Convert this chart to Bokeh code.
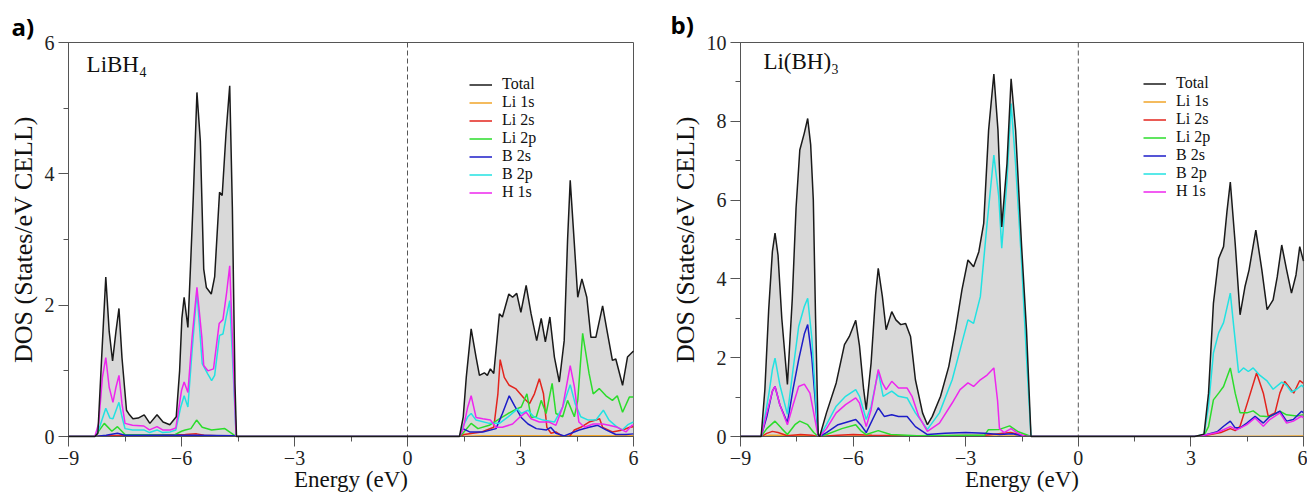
from bokeh.plotting import figure
from bokeh.models import Span, Label, Legend, LegendItem, SingleIntervalTicker, Range1d
from bokeh.layouts import row
from bokeh.embed import file_html
from bokeh.resources import INLINE

SERIES = ["Total", "Li 1s", "Li 2s", "Li 2p", "B 2s", "B 2p", "H 1s"]
COLORS = ["#1a1a1a", "#f0a428", "#e3241d", "#2bdc2b", "#1c1cc8", "#22e2e2", "#ee26ee"]

# ---------------- panel a) LiBH4 : (energy eV, DOS) ----------------
A_TOTAL = [(-9, 0), (-8.3, 0), (-8.22, 0.05), (-8.12, 1.2), (-8.01, 2.43), (-7.92, 1.6), (-7.83, 1.15),
           (-7.74, 1.6), (-7.66, 1.95), (-7.58, 1.2), (-7.46, 0.4), (-7.38, 0.33), (-7.29, 0.27),
           (-7.15, 0.28), (-6.99, 0.33), (-6.84, 0.2), (-6.65, 0.33), (-6.49, 0.22), (-6.31, 0.18),
           (-6.14, 0.3), (-6.05, 1.0), (-5.99, 1.8), (-5.93, 2.12), (-5.83, 1.66), (-5.76, 2.6),
           (-5.69, 3.6), (-5.59, 5.24), (-5.5, 4.5), (-5.41, 2.55), (-5.34, 2.27), (-5.21, 2.17),
           (-5.12, 2.43), (-4.99, 3.72), (-4.92, 3.67), (-4.82, 4.6), (-4.72, 5.34), (-4.65, 3.5),
           (-4.58, 0.8), (-4.54, 0), (1.38, 0), (1.48, 0.3), (1.56, 0.9), (1.69, 1.64), (1.82, 1.21),
           (1.91, 0.93), (2.04, 0.97), (2.12, 0.93), (2.2, 1.03), (2.29, 0.96), (2.38, 1.5), (2.44, 1.87),
           (2.52, 1.82), (2.69, 2.17), (2.79, 2.12), (2.9, 2.18), (3.01, 1.89), (3.15, 2.3), (3.28, 1.87),
           (3.43, 1.46), (3.55, 1.8), (3.66, 1.44), (3.78, 1.82), (3.9, 1.21), (4.03, 0.83), (4.16, 1.46),
           (4.25, 3.0), (4.32, 3.9), (4.43, 2.93), (4.52, 2.12), (4.63, 2.4), (4.76, 2.12), (4.87, 1.51),
           (5.0, 1.51), (5.18, 1.99), (5.31, 1.57), (5.44, 1.16), (5.53, 1.18), (5.71, 0.78), (5.84, 1.21),
           (5.96, 1.28), (6.0, 1.3)]
A_LI1S = [(-9, 0), (-8.3, 0), (-8.0, 0.01), (-4.6, 0.01), (-4.55, 0), (1.38, 0), (2.0, 0.01), (6, 0.01)]
A_LI2S = [(-9, 0), (-8.3, 0), (-8.0, 0.01), (-5.9, 0.03), (-5.6, 0.04), (-5.4, 0.02), (-4.55, 0), (1.38, 0),
          (1.5, 0.03), (1.97, 0.07), (2.29, 0.14), (2.4, 0.65), (2.46, 1.17), (2.57, 0.9), (2.7, 0.78),
          (2.87, 0.73), (3.1, 0.58), (3.24, 0.5), (3.37, 0.65), (3.5, 0.88), (3.61, 0.65), (3.7, 0.14),
          (3.81, 0.05), (3.94, 0.07), (4.12, 0.0), (4.3, 0.0), (4.43, 0.1), (4.6, 0.14), (4.82, 0.22),
          (5.0, 0.25), (5.1, 0.27), (5.18, 0.14), (5.44, 0.07), (5.71, 0.1), (5.9, 0.14), (6, 0.15)]
A_LI2P = [(-9, 0), (-8.3, 0), (-8.15, 0.12), (-8.05, 0.2), (-7.85, 0.08), (-7.7, 0.15), (-7.5, 0.03),
          (-6.2, 0.02), (-6.0, 0.08), (-5.9, 0.1), (-5.75, 0.12), (-5.6, 0.25), (-5.45, 0.14), (-5.2, 0.1),
          (-4.85, 0.12), (-4.65, 0.04), (-4.55, 0), (1.38, 0), (1.47, 0.05), (1.69, 0.2), (1.87, 0.12),
          (2.17, 0.17), (2.44, 0.27), (2.67, 0.35), (2.9, 0.42), (3.02, 0.45), (3.17, 0.65), (3.28, 0.29),
          (3.42, 0.3), (3.55, 0.55), (3.68, 0.35), (3.84, 0.81), (3.94, 0.35), (4.12, 0.3), (4.25, 0.55),
          (4.43, 0.3), (4.52, 0.55), (4.65, 1.57), (4.82, 0.96), (4.93, 0.65), (5.09, 0.73), (5.27, 0.62),
          (5.44, 0.55), (5.57, 0.62), (5.71, 0.37), (5.89, 0.6), (6, 0.6)]
A_B2S = [(-9, 0), (-8.3, 0), (-8.0, 0.02), (-7.7, 0.05), (-7.5, 0.02), (-5.6, 0.02), (-4.6, 0.01), (-4.55, 0),
         (1.38, 0), (1.47, 0.12), (1.65, 0.07), (2.0, 0.07), (2.35, 0.12), (2.52, 0.35), (2.7, 0.62),
         (2.84, 0.47), (3.02, 0.29), (3.2, 0.19), (3.42, 0.12), (3.69, 0.1), (3.8, 0.14), (3.94, 0.05),
         (4.16, 0.01), (4.34, 0.05), (4.56, 0.1), (4.82, 0.14), (5.05, 0.17), (5.27, 0.1), (5.53, 0.03),
         (5.8, 0.03), (6, 0.04)]
A_B2P = [(-9, 0), (-8.3, 0), (-8.2, 0.1), (-8.01, 0.43), (-7.9, 0.28), (-7.82, 0.27), (-7.66, 0.52),
         (-7.58, 0.3), (-7.5, 0.12), (-7.3, 0.1), (-7.0, 0.1), (-6.85, 0.06), (-6.65, 0.1), (-6.5, 0.06),
         (-6.3, 0.07), (-6.15, 0.1), (-6.02, 0.45), (-5.93, 0.62), (-5.83, 0.45), (-5.72, 1.3), (-5.59, 2.2),
         (-5.45, 1.11), (-5.3, 0.95), (-5.2, 0.85), (-5.12, 0.93), (-4.99, 1.54), (-4.9, 1.56), (-4.82, 1.8),
         (-4.72, 2.07), (-4.63, 1.0), (-4.55, 0), (1.38, 0), (1.47, 0.15), (1.6, 0.3), (1.69, 0.35),
         (1.82, 0.25), (2.17, 0.2), (2.44, 0.2), (2.67, 0.3), (2.92, 0.42), (3.02, 0.35), (3.2, 0.4),
         (3.35, 0.3), (3.6, 0.25), (3.9, 0.22), (4.12, 0.45), (4.32, 0.79), (4.45, 0.5), (4.6, 0.3),
         (4.8, 0.25), (5.0, 0.25), (5.2, 0.4), (5.35, 0.25), (5.55, 0.15), (5.7, 0.1), (5.85, 0.18), (6, 0.22)]
A_H1S = [(-9, 0), (-8.3, 0), (-8.2, 0.2), (-8.1, 0.9), (-8.01, 1.2), (-7.92, 0.75), (-7.82, 0.52),
         (-7.74, 0.75), (-7.66, 0.93), (-7.58, 0.5), (-7.5, 0.2), (-7.3, 0.17), (-7.0, 0.16), (-6.85, 0.1),
         (-6.65, 0.15), (-6.5, 0.1), (-6.3, 0.1), (-6.15, 0.13), (-6.0, 0.7), (-5.93, 0.83), (-5.83, 0.67),
         (-5.72, 1.5), (-5.59, 2.27), (-5.46, 1.51), (-5.41, 1.08), (-5.3, 1.0), (-5.15, 1.03), (-5.0, 1.72),
         (-4.9, 1.78), (-4.8, 2.2), (-4.72, 2.6), (-4.63, 1.2), (-4.55, 0), (1.38, 0), (1.47, 0.1), (1.6, 0.45),
         (1.69, 0.62), (1.82, 0.29), (2.0, 0.27), (2.2, 0.25), (2.35, 0.14), (2.52, 0.14), (2.79, 0.19),
         (2.97, 0.29), (3.15, 0.37), (3.28, 0.27), (3.5, 0.22), (3.76, 0.22), (3.94, 0.17), (4.12, 0.45),
         (4.32, 1.08), (4.43, 0.76), (4.55, 0.22), (4.7, 0.14), (4.93, 0.19), (5.18, 0.19), (5.35, 0.17),
         (5.57, 0.14), (5.8, 0.07), (5.96, 0.17), (6, 0.17)]

# ---------------- panel b) Li(BH)3 ----------------
B_TOTAL = [(-9, 0), (-8.45, 0), (-8.35, 1.2), (-8.25, 3.2), (-8.15, 4.7), (-8.08, 5.16), (-8.0, 4.6),
           (-7.9, 3.0), (-7.75, 1.32), (-7.62, 3.5), (-7.52, 5.8), (-7.42, 7.27), (-7.3, 7.7), (-7.21, 8.07),
           (-7.13, 7.4), (-7.06, 6.0), (-7.0, 3.0), (-6.93, 0.05), (-6.89, 0), (-6.71, 0.6), (-6.45, 1.36),
           (-6.23, 2.33), (-6.1, 2.54), (-5.93, 2.95), (-5.83, 2.3), (-5.72, 1.2), (-5.65, 0.68), (-5.52, 1.87),
           (-5.4, 3.6), (-5.33, 4.27), (-5.22, 3.55), (-5.12, 2.71), (-4.97, 3.17), (-4.86, 2.96), (-4.73, 2.84),
           (-4.6, 2.87), (-4.47, 2.54), (-4.34, 1.44), (-4.15, 0.6), (-4.02, 0.3), (-3.89, 0.51), (-3.67, 1.02),
           (-3.45, 1.78), (-3.27, 2.71), (-3.1, 3.72), (-2.94, 4.48), (-2.79, 4.31), (-2.65, 4.69),
           (-2.52, 5.41), (-2.39, 7.77), (-2.25, 9.2), (-2.14, 7.77), (-2.04, 5.32), (-1.9, 6.93),
           (-1.79, 9.08), (-1.67, 7.77), (-1.51, 4.82), (-1.38, 2.7), (-1.26, 0), (3.1, 0), (3.35, 0.06),
           (3.47, 1.1), (3.6, 3.38), (3.74, 4.52), (3.87, 4.82), (3.96, 5.7), (4.05, 6.46), (4.18, 4.9),
           (4.31, 3.09), (4.44, 3.8), (4.55, 4.23), (4.73, 5.24), (4.89, 4.23), (5.03, 3.22), (5.19, 3.47),
           (5.3, 4.05), (5.42, 4.86), (5.55, 4.23), (5.68, 3.64), (5.8, 4.1), (5.9, 4.82), (6.0, 4.45)]
B_LI1S = [(-9, 0), (-8.45, 0), (-8.2, 0.03), (-7.2, 0.02), (-6.93, 0), (-6.89, 0), (-6, 0.01), (-1.3, 0.01),
          (-1.26, 0), (3.1, 0), (6, 0.01)]
B_LI2S = [(-9, 0), (-8.45, 0), (-8.3, 0.08), (-8.15, 0.13), (-8.0, 0.1), (-7.75, 0.02), (-7.4, 0.05),
          (-7.1, 0.03), (-6.93, 0), (-6.89, 0), (-6.4, 0.03), (-6.0, 0.05), (-5.5, 0.03), (-4.0, 0.01),
          (-2.5, 0.03), (-2.0, 0.08), (-1.8, 0.1), (-1.5, 0.03), (-1.26, 0), (3.1, 0), (3.35, 0.02),
          (3.8, 0.1), (4.05, 0.2), (4.18, 0.15), (4.31, 0.26), (4.53, 0.93), (4.75, 1.61), (4.93, 1.1),
          (5.06, 0.51), (5.24, 0.6), (5.37, 1.1), (5.5, 1.4), (5.62, 1.25), (5.74, 1.1), (5.9, 1.42), (6.0, 1.35)]
B_LI2P = [(-9, 0), (-8.45, 0), (-8.3, 0.2), (-8.08, 0.39), (-7.9, 0.2), (-7.75, 0.05), (-7.55, 0.3),
          (-7.42, 0.39), (-7.21, 0.3), (-7.05, 0.1), (-6.93, 0), (-6.89, 0), (-6.71, 0.05), (-6.3, 0.2),
          (-5.93, 0.3), (-5.8, 0.15), (-5.65, 0.05), (-5.33, 0.15), (-5.0, 0.05), (-4.3, 0.02), (-3.0, 0.03),
          (-2.5, 0.03), (-2.4, 0.17), (-2.1, 0.18), (-1.83, 0.27), (-1.6, 0.12), (-1.4, 0.05), (-1.26, 0),
          (3.1, 0), (3.35, 0.03), (3.47, 0.25), (3.6, 0.93), (3.74, 1.1), (3.87, 1.27), (4.05, 1.74),
          (4.18, 1.1), (4.31, 0.6), (4.49, 0.6), (4.66, 0.65), (4.84, 0.52), (5.1, 0.5), (5.37, 0.64),
          (5.55, 0.55), (5.82, 0.52), (6.0, 0.55)]
B_B2S = [(-9, 0), (-8.45, 0), (-8.3, 0.5), (-8.15, 1.15), (-8.08, 1.27), (-7.95, 0.8), (-7.75, 0.35),
         (-7.6, 1.2), (-7.45, 1.95), (-7.3, 2.6), (-7.21, 2.84), (-7.1, 2.0), (-7.0, 0.8), (-6.93, 0),
         (-6.89, 0), (-6.71, 0.1), (-6.4, 0.3), (-5.93, 0.43), (-5.8, 0.3), (-5.65, 0.1), (-5.33, 0.73),
         (-5.17, 0.51), (-4.97, 0.55), (-4.79, 0.51), (-4.56, 0.51), (-4.34, 0.25), (-4.02, 0.05),
         (-3.55, 0.08), (-3.0, 0.1), (-2.5, 0.08), (-2.1, 0.05), (-1.75, 0.07), (-1.4, 0), (-1.26, 0),
         (3.1, 0), (3.35, 0.03), (3.7, 0.12), (3.87, 0.26), (4.05, 0.39), (4.18, 0.22), (4.31, 0.22),
         (4.49, 0.34), (4.71, 0.51), (4.93, 0.34), (5.1, 0.51), (5.37, 0.64), (5.55, 0.39), (5.73, 0.43),
         (5.95, 0.64), (6.0, 0.6)]
B_B2P = [(-9, 0), (-8.45, 0), (-8.35, 0.5), (-8.24, 1.11), (-8.15, 1.7), (-8.08, 1.99), (-7.95, 1.3),
         (-7.75, 0.56), (-7.6, 1.7), (-7.45, 2.79), (-7.3, 3.3), (-7.21, 3.51), (-7.1, 2.5), (-7.0, 1.0),
         (-6.93, 0), (-6.89, 0), (-6.71, 0.3), (-6.45, 0.77), (-6.2, 1.02), (-5.93, 1.19), (-5.83, 1.02),
         (-5.65, 0.43), (-5.52, 0.77), (-5.33, 1.65), (-5.2, 1.02), (-4.97, 1.15), (-4.79, 1.02),
         (-4.56, 0.98), (-4.34, 0.6), (-4.02, 0.18), (-3.7, 0.6), (-3.36, 1.44), (-3.15, 2.2), (-2.94, 2.96),
         (-2.79, 2.87), (-2.61, 3.55), (-2.43, 5.41), (-2.25, 7.14), (-2.12, 6.1), (-2.04, 4.78), (-1.9, 6.5),
         (-1.79, 8.45), (-1.67, 6.9), (-1.51, 4.4), (-1.38, 2.0), (-1.26, 0), (3.1, 0), (3.35, 0.05),
         (3.47, 0.77), (3.6, 2.12), (3.74, 2.63), (3.87, 2.89), (4.05, 3.64), (4.14, 2.8), (4.27, 1.62),
         (4.4, 1.74), (4.53, 1.65), (4.66, 1.74), (4.84, 1.55), (5.02, 1.42), (5.19, 1.2), (5.42, 1.38),
         (5.55, 1.3), (5.68, 1.13), (5.82, 1.2), (5.95, 1.3), (6.0, 1.25)]
B_H1S = [(-9, 0), (-8.45, 0), (-8.3, 0.6), (-8.15, 1.15), (-8.08, 1.27), (-7.95, 0.8), (-7.75, 0.3),
         (-7.6, 0.8), (-7.45, 1.27), (-7.3, 1.33), (-7.15, 1.1), (-7.05, 0.6), (-6.93, 0), (-6.89, 0),
         (-6.71, 0.2), (-6.45, 0.6), (-6.2, 0.81), (-5.93, 0.98), (-5.83, 0.85), (-5.65, 0.25), (-5.52, 0.68),
         (-5.33, 1.7), (-5.22, 1.36), (-5.12, 1.19), (-4.97, 1.4), (-4.79, 1.23), (-4.56, 1.23), (-4.43, 1.02),
         (-4.25, 0.51), (-4.02, 0.13), (-3.7, 0.34), (-3.36, 0.85), (-3.15, 1.19), (-2.94, 1.36),
         (-2.79, 1.27), (-2.61, 1.44), (-2.43, 1.56), (-2.25, 1.74), (-2.15, 0.9), (-2.1, 0.2), (-1.98, 0.1),
         (-1.79, 0.2), (-1.64, 0.1), (-1.42, 0), (-1.26, 0), (3.1, 0), (3.35, 0.03), (3.7, 0.1), (3.87, 0.17),
         (4.05, 0.25), (4.22, 0.17), (4.49, 0.3), (4.71, 0.47), (4.93, 0.26), (5.1, 0.43), (5.37, 0.6),
         (5.55, 0.34), (5.73, 0.39), (5.95, 0.52), (6.0, 0.47)]

SERIF = "Liberation Serif"


def make_panel(series, ymax, width, border_left, border_right, tag, tag_offset, tag_standoff,
               name, name_xy, legend_xy):
    p = figure(width=width, height=494, x_range=Range1d(-9, 6), y_range=Range1d(0, ymax),
               output_backend="svg", toolbar_location=None,
               min_border_left=border_left, min_border_right=border_right,
               min_border_top=42, min_border_bottom=58)
    p.grid.visible = False
    p.outline_line_color = "#555555"
    p.background_fill_color = "white"
    p.border_fill_color = "white"

    p.title.text = tag
    p.title.align = "left"
    p.title.offset = tag_offset
    p.title.standoff = tag_standoff
    p.title.text_font = "Open Sans"
    p.title.text_font_style = "bold"
    p.title.text_font_size = "24px"
    p.title.text_color = "#000000"

    p.xaxis.ticker = SingleIntervalTicker(interval=3, num_minor_ticks=2)
    p.yaxis.ticker = SingleIntervalTicker(interval=2, num_minor_ticks=2)
    for ax in (p.xaxis[0], p.yaxis[0]):
        ax.axis_line_color = "#555555"
        ax.major_tick_line_color = "#555555"
        ax.minor_tick_line_color = "#555555"
        ax.major_tick_out = 10
        ax.major_tick_in = 0
        ax.minor_tick_out = 5
        ax.minor_tick_in = 0
        ax.major_label_text_font = SERIF
        ax.major_label_text_font_size = "20px"
        ax.major_label_text_color = "#222222"
        ax.axis_label_text_font = SERIF
        ax.axis_label_text_font_style = "normal"
        ax.axis_label_text_color = "#111111"
    p.xaxis.axis_label = "Energy (eV)"
    p.yaxis.axis_label = "DOS (States/eV CELL)"
    p.xaxis.axis_label_text_font_size = "23px"
    p.yaxis.axis_label_text_font_size = "26px"
    p.xaxis.major_label_standoff = 4
    p.xaxis.axis_label_standoff = -1
    p.yaxis.major_label_standoff = 4
    p.yaxis.axis_label_standoff = 4

    tx = [e for e, _ in series[0]]
    ty = [d for _, d in series[0]]
    p.varea(x=tx, y1=0, y2=ty, fill_color="#d9d9d9")

    renderers = []
    for pts, color in zip(series, COLORS):
        r = p.line([e for e, _ in pts], [d for _, d in pts], line_color=color, line_width=1.5)
        renderers.append(r)
    renderers[0].level = "overlay"

    p.add_layout(Span(location=0, dimension="height", line_color="#555555", line_dash="5 3", line_width=1))

    legend = Legend(items=[LegendItem(label=s, renderers=[r]) for s, r in zip(SERIES, renderers)],
                    location=legend_xy, padding=0, margin=0, spacing=0,
                    glyph_width=23, glyph_height=17, label_height=17, label_standoff=10,
                    label_text_font=SERIF, label_text_font_size="16px", label_text_color="#111111",
                    border_line_alpha=0, background_fill_alpha=0)
    p.add_layout(legend, "center")

    p.add_layout(Label(x=name_xy[0], y=name_xy[1], text=name, text_font=SERIF, text_font_size="23px",
                       text_color="#111111", text_baseline="alphabetic"))
    return p


p1 = make_panel([A_TOTAL, A_LI1S, A_LI2S, A_LI2P, A_B2S, A_B2P, A_H1S], 6, 667, 68, 34,
                "a)", -57, 0, "LiBH₄", (-8.52, 5.67), (401, 235))
p2 = make_panel([B_TOTAL, B_LI1S, B_LI2S, B_LI2P, B_B2S, B_B2P, B_H1S], 10, 640, 69, 4,
                "b)", -70, 3, "Li(BH)₃", (-8.39, 9.53), (403, 236))

layout = row(p1, p2)
open("out.html", "w").write(file_html(layout, INLINE))
